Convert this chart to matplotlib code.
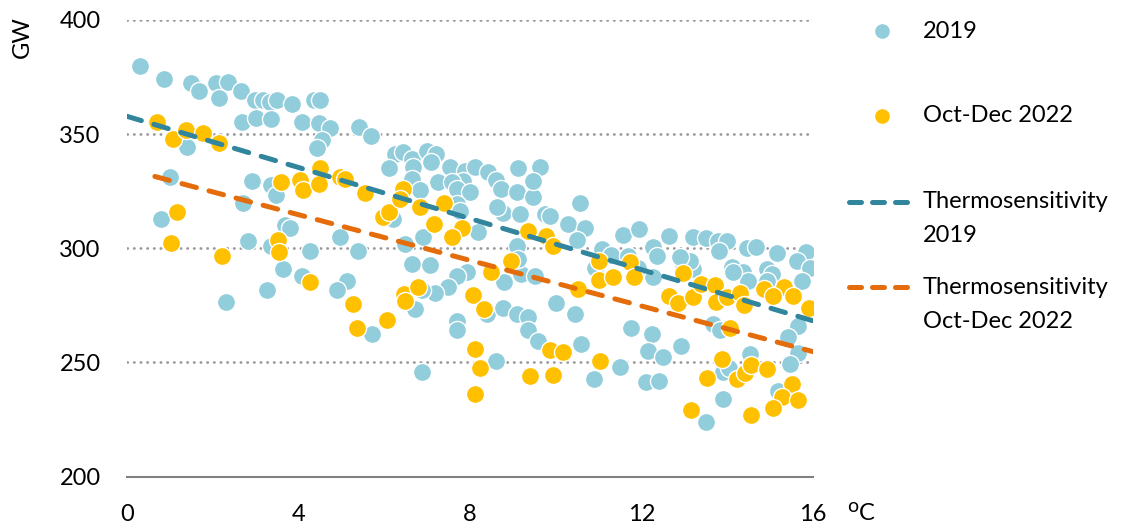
import numpy as np
import matplotlib.pyplot as plt
from matplotlib.lines import Line2D

# --- data (temperature degC, demand GW) ---
temp_2019 = [0.30, 0.87, 1.49, 1.68, 2.07, 2.35, 2.15, 2.65, 2.99, 3.18, 3.34, 3.49, 3.86, 4.35, 4.50,
             2.69, 3.02, 3.36, 4.07, 4.48, 4.73, 4.54, 4.42, 5.42, 5.68, 1.39, 1.00, 2.91, 3.37, 3.47,
             2.70, 0.79, 3.69, 3.80, 4.97, 2.83, 3.36, 4.27, 5.38, 3.65, 4.07, 5.12, 4.89, 3.27, 2.30,
             5.71, 6.25, 6.44, 6.10, 6.64, 6.68, 6.99, 7.20, 7.10, 6.64, 6.83, 7.25, 7.53, 7.88, 8.12,
             7.84, 7.57, 7.69, 8.00, 7.69, 7.77, 8.43, 8.60, 8.72, 8.78, 9.13, 9.64, 9.09, 9.48, 9.46,
             9.17, 8.62, 9.75, 9.87, 10.29, 10.68, 10.57, 8.19, 6.91, 6.48, 9.09, 10.49, 6.64, 7.07, 7.92,
             7.69, 7.49, 7.18, 6.87, 6.72, 8.80, 9.20, 9.52, 7.69, 7.69, 8.39, 8.78, 9.09, 9.36, 9.36,
             9.59, 10.00, 10.45, 10.60, 8.60, 6.87, 10.89, 6.21, 9.13, 11.58, 11.95, 12.65, 13.21, 13.50, 13.79,
             13.99, 13.80, 14.45, 14.67, 15.15, 15.83, 15.62, 15.93, 15.74, 14.92, 14.10, 14.37, 14.49, 12.97, 13.21,
             12.26, 12.35, 12.27, 11.07, 11.30, 10.91, 11.69, 11.81, 11.93, 11.75, 12.24, 12.16, 12.51, 12.92, 11.50,
             12.10, 12.41, 13.67, 13.83, 15.66, 15.42, 15.66, 15.47, 14.53, 13.91, 14.03, 15.19, 13.89, 13.50, 13.13,
             15.04, 14.92, 14.14, 12.90]
gw_2019 = [380.0, 374.0, 372.5, 369.0, 372.5, 373.0, 366.0, 369.0, 365.0, 365.0, 364.0, 365.0, 363.0, 365.0, 365.0,
           355.5, 357.0, 356.5, 355.5, 355.0, 352.5, 347.5, 344.0, 353.0, 349.0, 344.5, 331.0, 329.5, 327.5, 323.5,
           320.0, 313.0, 310.0, 309.0, 305.0, 303.0, 301.0, 299.0, 299.0, 291.0, 288.0, 285.5, 281.5, 281.5, 276.5,
           262.5, 341.5, 342.0, 335.0, 339.0, 335.5, 342.5, 341.5, 338.0, 330.5, 325.5, 329.0, 335.5, 334.0, 335.5,
           329.5, 329.0, 326.0, 324.5, 319.5, 316.5, 333.5, 330.0, 326.0, 315.5, 335.0, 335.5, 324.5, 322.5, 329.5,
           315.0, 318.0, 315.0, 314.0, 310.5, 309.0, 320.0, 307.0, 305.0, 302.0, 301.0, 303.5, 293.0, 292.5, 289.5,
           288.0, 283.0, 280.5, 281.5, 273.5, 285.0, 288.5, 288.0, 268.0, 264.0, 271.0, 274.0, 271.0, 270.0, 264.0,
           259.5, 276.0, 271.0, 258.0, 250.5, 246.0, 242.5, 313.0, 295.5, 306.0, 308.5, 305.5, 305.0, 304.5, 303.0,
           303.0, 299.0, 300.0, 300.5, 298.0, 298.5, 294.5, 291.5, 285.7, 291.0, 292.0, 289.5, 285.5, 293.0, 291.0,
           300.5, 296.5, 287.5, 299.5, 297.0, 291.5, 296.5, 293.0, 291.5, 265.0, 262.5, 255.0, 252.5, 257.0, 248.0,
           241.5, 242.0, 267.0, 264.0, 266.0, 261.0, 254.0, 249.5, 253.5, 246.0, 247.5, 237.5, 234.0, 224.0, 294.5,
           288.5, 285.7, 289.5, 296.0]

temp_2022 = [0.69, 1.08, 1.37, 1.78, 2.15, 3.59, 4.03, 4.10, 4.50, 4.48, 4.97, 5.08, 5.55, 1.16, 1.02,
             2.21, 3.53, 3.55, 4.27, 5.26, 5.37, 5.96, 6.12, 6.43, 6.37, 6.83, 7.40, 7.15, 7.81, 7.59,
             9.36, 9.77, 9.94, 8.50, 8.95, 11.00, 11.00, 10.53, 6.45, 6.78, 6.48, 6.06, 8.08, 8.33, 9.87,
             10.18, 8.12, 8.23, 8.12, 9.40, 9.93, 11.03, 11.34, 11.73, 11.83, 12.97, 12.63, 12.86, 13.21, 13.38,
             13.71, 13.73, 13.99, 14.29, 14.38, 14.86, 15.32, 15.07, 15.54, 15.91, 14.06, 13.87, 13.52, 14.22, 14.41,
             14.55, 14.92, 15.52, 15.27, 15.66, 15.06, 13.16, 14.55]
gw_2022 = [355.5, 348.0, 352.0, 350.5, 346.0, 329.0, 330.0, 325.5, 335.0, 328.0, 331.0, 330.5, 324.0, 316.0, 302.5,
           296.5, 303.5, 298.5, 285.0, 275.5, 265.0, 313.5, 316.0, 326.0, 321.5, 318.0, 320.0, 310.5, 309.0, 305.0,
           307.5, 305.5, 301.0, 289.5, 294.5, 294.5, 286.3, 282.3, 280.0, 283.0, 277.0, 268.5, 279.5, 273.5, 255.5,
           254.5, 255.7, 247.5, 236.0, 244.0, 244.5, 250.5, 287.2, 294.0, 287.5, 289.0, 279.0, 276.0, 278.5, 284.3,
           284.0, 276.5, 278.5, 280.5, 275.3, 282.0, 283.0, 279.0, 279.0, 273.7, 265.0, 251.3, 243.2, 242.5, 245.4,
           249.0, 247.0, 240.5, 234.7, 233.3, 230.0, 229.3, 227.0]

# thermosensitivity fits (intercept GW, slope GW/degC, x range)
fit_2019 = (357.8, -5.6, 0.0, 16.0)
fit_2022 = (334.7, -5.0, 0.65, 16.0)

c_2019 = '#92CDDC'
c_2022 = '#FFC000'
c_fit19 = '#31859C'
c_fit22 = '#E46C0A'

plt.rcParams['font.family'] = ['Lato', 'DejaVu Sans']
plt.rcParams['font.size'] = 17

fig = plt.figure(figsize=(11.3, 5.27), dpi=100)
W, H = 1130, 527
ax = fig.add_axes([127 / W, 1 - 476.5 / H, (813 - 127) / W, (476.5 - 20) / H])

ax.scatter(temp_2019, gw_2019, s=170, color=c_2019, edgecolors='white', linewidths=1.0, zorder=3)
ax.scatter(temp_2022, gw_2022, s=170, color=c_2022, edgecolors='white', linewidths=1.0, zorder=4)

dash = (0, (3.0, 2.6))
for (b, m, x0, x1), col in [(fit_2019, c_fit19), (fit_2022, c_fit22)]:
    xs = np.array([x0, x1])
    ax.plot(xs, b + m * xs, color=col, lw=3.6, linestyle=dash, dash_capstyle='round', zorder=5)

ax.set_xlim(0, 16)
ax.set_ylim(200, 400)
ax.set_xticks([0, 4, 8, 12, 16])
ax.set_yticks([200, 250, 300, 350, 400])
ax.tick_params(length=0)
ax.tick_params(axis='x', pad=20)
ax.tick_params(axis='y', pad=19)
for v in [250, 300, 350, 400]:
    ax.axhline(v, color='#9A9A9A', lw=2.0, linestyle=(0, (0.1, 2.3)), dash_capstyle='round', zorder=1)
for s in ['top', 'right', 'left']:
    ax.spines[s].set_visible(False)
ax.spines['bottom'].set_color('#808080')
ax.spines['bottom'].set_linewidth(1.5)
ax.spines['bottom'].set_zorder(2)

fig.text(22 / W, 1 - 37 / H, 'GW', rotation=90, ha='center', va='center')
fig.text(853 / W, 1 - 507 / H, 'o', fontsize=14, ha='center', va='center')
fig.text(859 / W, 1 - 513 / H, 'C', ha='left', va='center')

# legend drawn by hand to follow the reference layout
tr = fig.transFigure
def fx(px):
    return px / W
def fy(py):
    return 1 - py / H

fig.add_artist(Line2D([fx(881.7)], [fy(31)], marker='o', markersize=9.5, color=c_2019, lw=0, transform=tr))
fig.add_artist(Line2D([fx(881.7)], [fy(116)], marker='o', markersize=9.5, color=c_2022, lw=0, transform=tr))
fig.add_artist(Line2D([fx(849), fx(908)], [fy(201.5)] * 2, color=c_fit19, lw=3.6,
                      linestyle=(0, (2.4, 2.2)), dash_capstyle='round', transform=tr))
fig.add_artist(Line2D([fx(849), fx(908)], [fy(286.5)] * 2, color=c_fit22, lw=3.6,
                      linestyle=(0, (2.4, 2.2)), dash_capstyle='round', transform=tr))

tx = fx(923)
fig.text(tx, fy(31), '2019', va='center')
fig.text(tx, fy(116), 'Oct-Dec 2022', va='center')
fig.text(tx, fy(201), 'Thermosensitivity', va='center')
fig.text(tx, fy(236), '2019', va='center')
fig.text(tx, fy(287), 'Thermosensitivity', va='center')
fig.text(tx, fy(321), 'Oct-Dec 2022', va='center')

fig.savefig('out.png', dpi=100)
